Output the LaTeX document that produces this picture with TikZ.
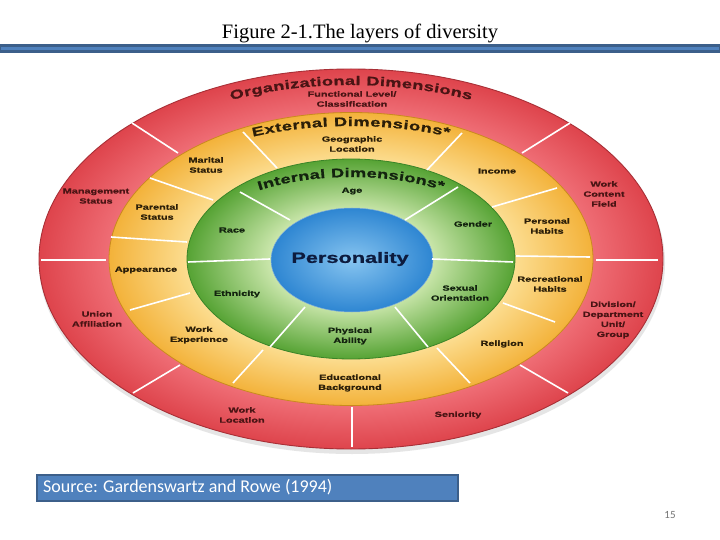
\documentclass[tikz,border=0pt]{standalone}
\usepackage{fontspec}
\setmainfont{Liberation Serif}
\setsansfont{Liberation Sans}
\newfontfamily\labfont[FakeStretch=1.45,FakeBold=1]{Liberation Sans Bold}
\newfontfamily\srcfont{Carlito}
\usetikzlibrary{decorations.text}

\definecolor{redout}{HTML}{DE444C}
\definecolor{redin}{HTML}{F07078}
\definecolor{yelout}{HTML}{F3B23A}
\definecolor{yelin}{HTML}{FDE29A}
\definecolor{grnout}{HTML}{56A334}
\definecolor{grnin}{HTML}{CDE8AE}
\definecolor{bluout}{HTML}{2E86D2}
\definecolor{bluin}{HTML}{86C4F0}
\definecolor{redline}{HTML}{A82F36}
\definecolor{yelline}{HTML}{C98A1E}
\definecolor{grnline}{HTML}{3A8428}
\definecolor{bluline}{HTML}{2F78C0}
\definecolor{redtxt}{HTML}{4A1414}
\definecolor{yeltxt}{HTML}{2B1E08}
\definecolor{grntxt}{HTML}{13230F}
\definecolor{pertxt}{HTML}{0D1B3E}
\definecolor{bardark}{HTML}{3C5F8A}
\definecolor{barlight}{HTML}{4F81BD}

\pgfdeclareradialshading{redsh}{\pgfpoint{0bp}{0bp}}{color(0bp)=(redin); color(19bp)=(redin); color(25bp)=(redout); color(50bp)=(redout)}
\pgfdeclareradialshading{yelsh}{\pgfpoint{0bp}{0bp}}{color(0bp)=(yelin); color(16bp)=(yelin); color(25bp)=(yelout); color(50bp)=(yelout)}
\pgfdeclareradialshading{grnsh}{\pgfpoint{0bp}{0bp}}{color(0bp)=(grnin); color(12bp)=(grnin); color(25bp)=(grnout); color(50bp)=(grnout)}
\pgfdeclareradialshading{blush}{\pgfpoint{0bp}{0bp}}{color(0bp)=(bluin); color(25bp)=(bluout); color(50bp)=(bluout)}

\newcommand\arcfont{\labfont\fontsize{12.5}{13}\selectfont}

\begin{document}
\begin{tikzpicture}[x=1pt,y=-1pt,
  lab/.style={font=\labfont\fontsize{7.5}{10}\selectfont, align=center, inner sep=0pt},
  redlab/.style={lab, text=redtxt},
  yellab/.style={lab, text=yeltxt},
  grnlab/.style={lab, text=grntxt},
  divider/.style={white, line width=1.6pt},
  arctext/.style={decorate, decoration={text along path, text align={fit to path}, text={#1}}}
]
\useasboundingbox (0,0) rectangle (720,540);
\fill[white] (0,0) rectangle (720,540);

% title and bar
\node[font=\fontsize{20.5}{22}\selectfont, anchor=base, inner sep=0pt] (title) at (360,39) {Figure 2-1.The layers of diversity};
\fill[bardark] (0,44.5) rectangle (720,53);
\fill[barlight] (1,47.5) rectangle (719,50.5);

\coordinate (c) at (351,259);

% shadow
\fill[black!10] (352,263) ellipse [x radius=313, y radius=191];
% layers
\path[shading=redsh] (c) ellipse [x radius=312, y radius=190];
\draw[redline, line width=0.9pt] (c) ellipse [x radius=312, y radius=190];
\path[shading=yelsh] (c) ellipse [x radius=242, y radius=146.5];
\draw[yelline, line width=0.8pt] (c) ellipse [x radius=242, y radius=146.5];
\path[shading=grnsh] (c) ellipse [x radius=164, y radius=100];
\draw[grnline, line width=0.8pt] (c) ellipse [x radius=164, y radius=100];
\path[shading=blush] (352,260) ellipse [x radius=81, y radius=52];
\draw[bluline!60, line width=0.5pt] (352,260) ellipse [x radius=81, y radius=52];

% dividers red ring
\draw[divider] (132,123) -- (178,153);
\draw[divider] (570,123) -- (522,153);
\draw[divider] (41,260) -- (106,260);
\draw[divider] (596,260) -- (658,260);
\draw[divider] (180,365) -- (133,393);
\draw[divider] (352,407) -- (352,447);
\draw[divider] (520,365) -- (568,393);
% dividers yellow ring
\draw[divider] (150,178) -- (213,200);
\draw[divider] (243,132) -- (277,168);
\draw[divider] (462,133) -- (427,170);
\draw[divider] (557,188) -- (492,207);
\draw[divider] (111,237) -- (187,242);
\draw[divider] (516,256) -- (590,257);
\draw[divider] (130,310) -- (190,293);
\draw[divider] (233,383) -- (263,350);
\draw[divider] (437,348) -- (470,383);
\draw[divider] (503,303) -- (555,322);
% dividers green ring
\draw[divider] (240,192) -- (290,220);
\draw[divider] (458,187) -- (405,220);
\draw[divider] (188,262) -- (270,259);
\draw[divider] (432,259) -- (513,262);
\draw[divider] (305,307) -- (270,347);
\draw[divider] (395,307) -- (428,347);

% curved titles
\path[arctext={|\arcfont\color{redtxt}|Organizational Dimensions}] (c) ++(246:295 and 174) arc[start angle=246, end angle=294, x radius=295, y radius=174];
\path[arctext={|\arcfont\color{yeltxt}|External Dimensions*}] (c) ++(246.9:250 and 133) arc[start angle=246.9, end angle=293.1, x radius=250, y radius=133];
\path[arctext={|\arcfont\color{grntxt}|Internal Dimensions*}] (c) ++(236.8:168 and 82) arc[start angle=236.8, end angle=303.2, x radius=168, y radius=82];

% red ring labels
\node[redlab] (func) at (352,99) {Functional Level/\\Classification};
\node[redlab] (mgmt) at (96,196) {Management\\Status};
\node[redlab] (wcf) at (604,194) {Work\\Content\\Field};
\node[redlab] (union) at (97,319) {Union\\Affiliation};
\node[redlab] (div) at (613,320) {Division/\\Department\\Unit/\\Group};
\node[redlab] (wloc) at (242,415) {Work\\Location};
\node[redlab] (sen) at (458,415) {Seniority};
% yellow ring labels
\node[yellab] (geo) at (352,144) {Geographic\\Location};
\node[yellab] (mar) at (206,165) {Marital\\Status};
\node[yellab] (par) at (157,212) {Parental\\Status};
\node[yellab] (inc) at (497,171) {Income};
\node[yellab] (ph) at (547,226) {Personal\\Habits};
\node[yellab] (app) at (146,270) {Appearance};
\node[yellab] (rec) at (550,284) {Recreational\\Habits};
\node[yellab] (wexp) at (199,335) {Work\\Experience};
\node[yellab] (rel) at (502,344) {Religion};
\node[yellab] (edu) at (350,383) {Educational\\Background};
% green ring labels
\node[grnlab] (age) at (352,191) {Age};
\node[grnlab] (race) at (232,230) {Race};
\node[grnlab] (gen) at (473,224) {Gender};
\node[grnlab] (eth) at (237,294) {Ethnicity};
\node[grnlab] (sex) at (460,293) {Sexual\\Orientation};
\node[grnlab] (phys) at (350,336) {Physical\\Ability};
% core
\node[font=\labfont\fontsize{15}{15}\selectfont, text=pertxt, inner sep=0pt] (pers) at (350,259) {Personality};

% source box
\node[draw=bardark, line width=1.8pt, fill=barlight, minimum width=421pt, minimum height=26pt, anchor=north west, inner sep=0pt] (src) at (36,474) {};
\node[font=\srcfont\fontsize{18}{20}\selectfont, text=white, anchor=west, inner sep=0pt] (srctxt) at (43,487.5) {Source: Gardenswartz and Rowe (1994)};
\node[font=\srcfont\fontsize{11}{12}\selectfont, text=black!55, inner sep=0pt] (pg) at (670,515) {15};
\end{tikzpicture}
\end{document}
